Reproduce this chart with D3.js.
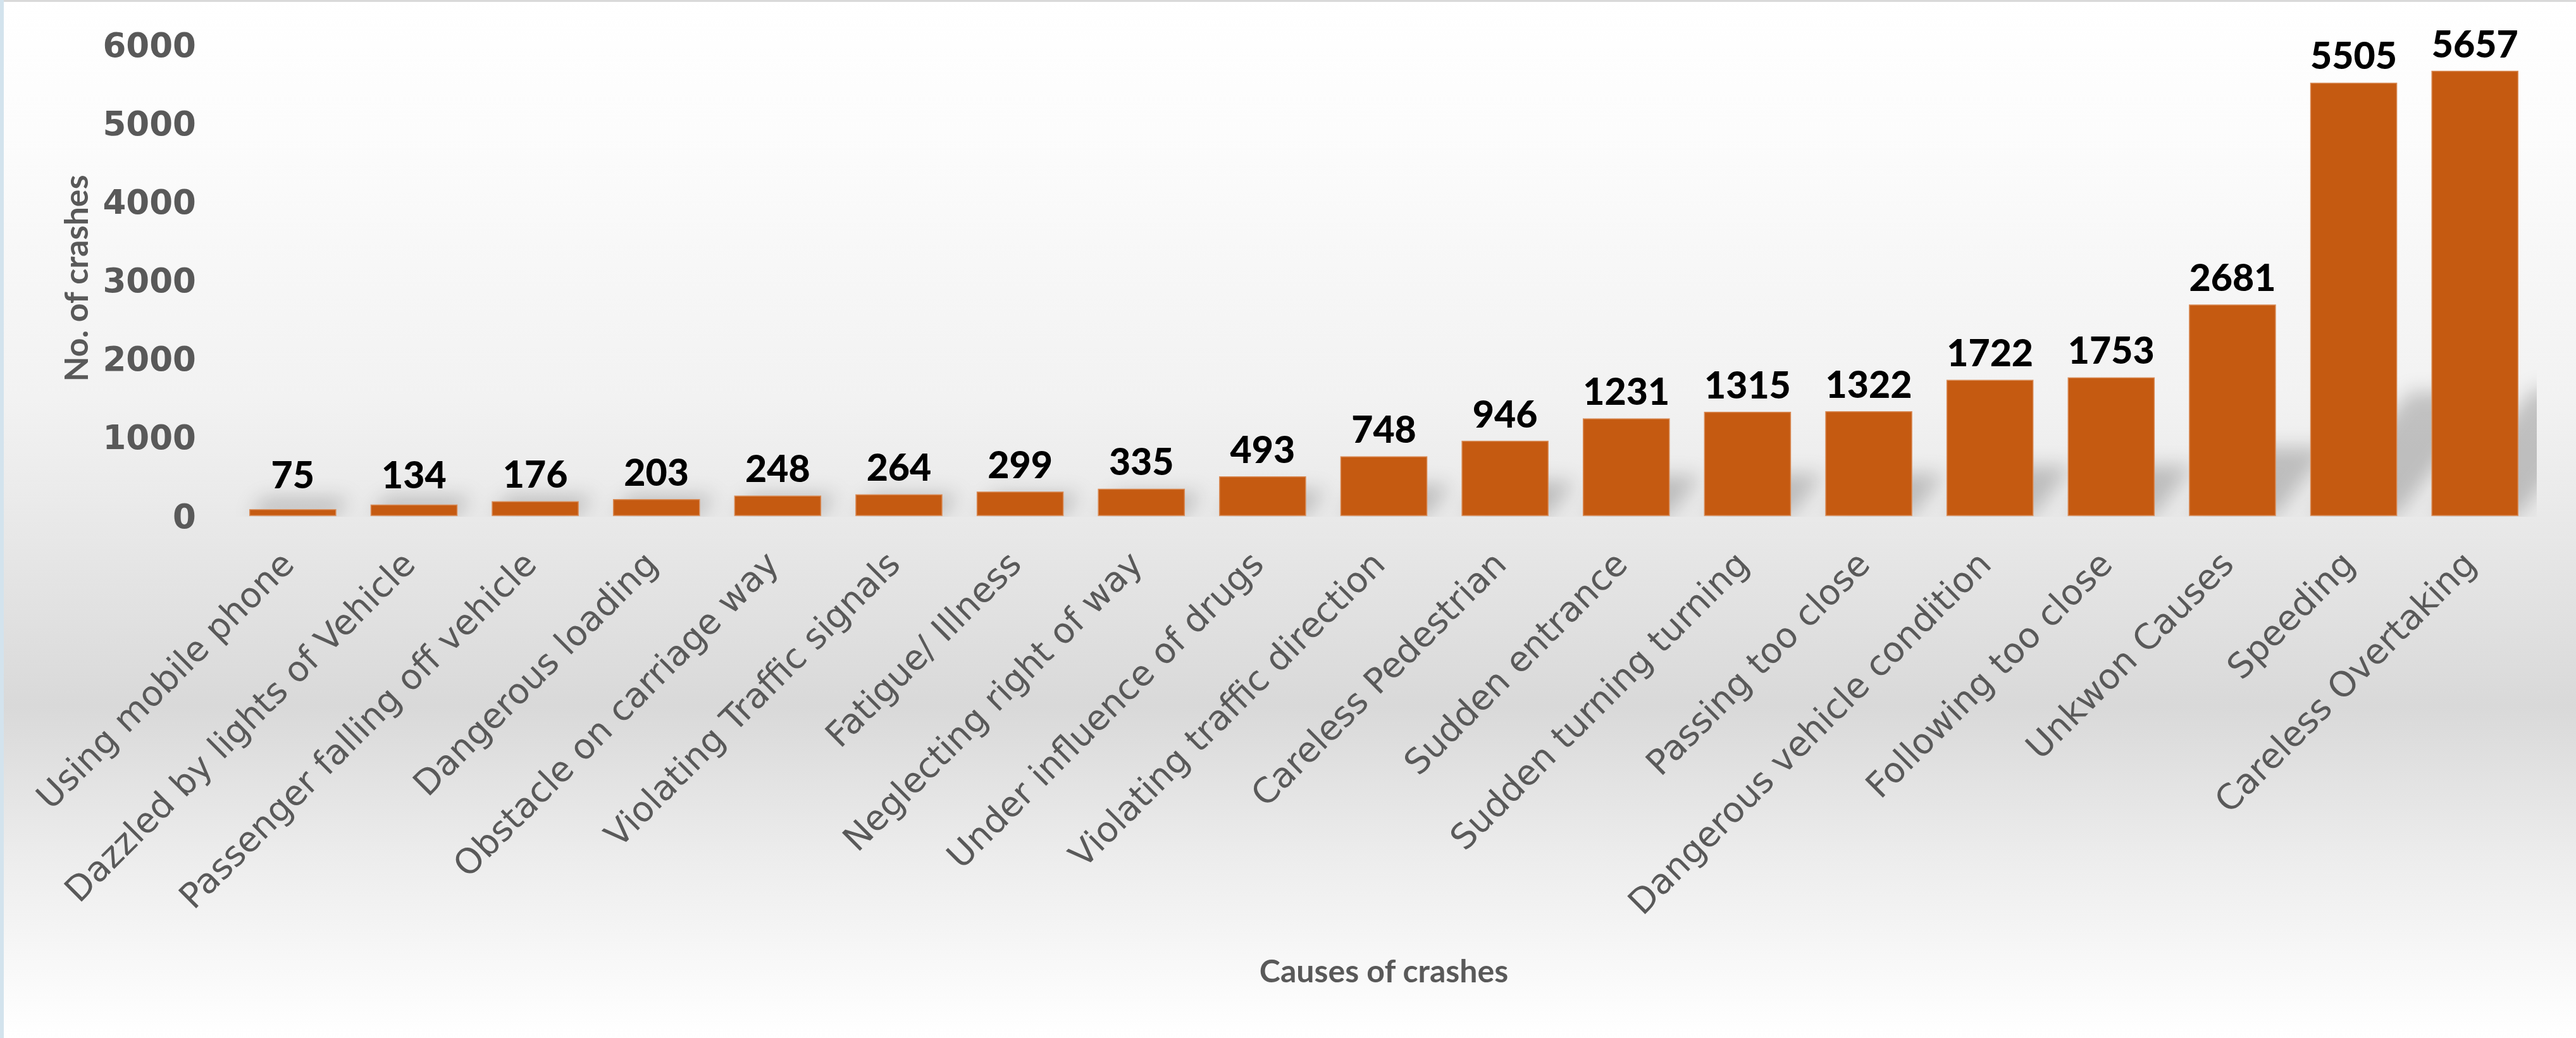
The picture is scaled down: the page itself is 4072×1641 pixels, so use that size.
<!DOCTYPE html>
<html><head><meta charset="utf-8">
<script src="https://cdn.jsdelivr.net/npm/d3@7/dist/d3.min.js"></script>
<style>body{margin:0;background:#fff;overflow:hidden}</style>
</head><body>
<svg id="c" width="4072" height="1641"></svg>
<script>
const categories = ["Using mobile phone","Dazzled by lights of Vehicle","Passenger falling off vehicle","Dangerous loading","Obstacle on carriage way","Violating Traffic signals","Fatigue/ Illness","Neglecting right of way","Under influence of drugs","Violating traffic direction","Careless Pedestrian","Sudden entrance","Sudden turning turning","Passing too close","Dangerous vehicle condition","Following too close","Unkwon Causes","Speeding","Careless Overtaking"];
const values = [75,134,176,203,248,264,299,335,493,748,946,1231,1315,1322,1722,1753,2681,5505,5657];
const yTicks = [0,1000,2000,3000,4000,5000,6000];
const yAxisTitle = "No. of crashes";
const xAxisTitle = "Causes of crashes";

const W = 4072, H = 1641;
const svg = d3.select("#c");
const defs = svg.append("defs");

// background gradient
const bg = defs.append("linearGradient").attr("id","bg").attr("x1",0).attr("y1",0).attr("x2",0).attr("y2",1);
[[0,"#ffffff"],[0.127,"#fcfcfc"],[0.383,"#f2f2f2"],[0.511,"#e8e8e8"],[0.68,"#d9d9d9"],[0.83,"#ededed"],[0.957,"#fbfbfb"],[1,"#ffffff"]]
  .forEach(([o,c])=>bg.append("stop").attr("offset",o).attr("stop-color",c));
svg.append("rect").attr("width",W).attr("height",H).attr("fill","url(#bg)");

// borders
svg.append("line").attr("x1",0).attr("x2",W).attr("y1",1.5).attr("y2",1.5).attr("stroke","#d9d9d9").attr("stroke-width",3);
svg.append("line").attr("x1",3).attr("x2",3).attr("y1",0).attr("y2",H).attr("stroke","#d3e3ed").attr("stroke-width",6);

const x = d3.scaleBand().domain(categories).range([367,4008]).paddingInner(0.29).paddingOuter(0.145);
const y = d3.scaleLinear().domain([0,6000]).range([815,70]);

// shadow
const blur = defs.append("filter").attr("id","blur").attr("x","-20%").attr("y","-50%").attr("width","140%").attr("height","200%");
blur.append("feGaussianBlur").attr("stdDeviation",15);
defs.append("clipPath").attr("id","plotclip").append("rect").attr("x",360).attr("y",0).attr("width",4010-360).attr("height",817);
const sh = svg.append("g").attr("clip-path","url(#plotclip)").append("g").attr("filter","url(#blur)");
sh.selectAll("path").data(values).join("path")
  .attr("d",(v,i)=>{
    const x0 = x(categories[i]), x1 = x0 + x.bandwidth();
    const h = y(0) - y(v);
    const dx = 0.2*h + 20, dy = 0.25*h + 25;
    return `M${x0},${y(0)}L${x1},${y(0)}L${x1+dx},${y(0)-dy}L${x0+dx},${y(0)-dy}Z`;
  })
  .attr("fill","#000").attr("fill-opacity",0.2);

// bars
svg.append("g").selectAll("rect").data(values).join("rect")
  .attr("x",(v,i)=>x(categories[i]))
  .attr("y",v=>y(v))
  .attr("width",x.bandwidth())
  .attr("height",v=>y(0)-y(v))
  .attr("fill","#C55A11")
  .attr("stroke","#d98a55").attr("stroke-width",1.5);

// data labels
svg.append("g").selectAll("text").data(values).join("text")
  .attr("x",(v,i)=>x(categories[i])+x.bandwidth()/2)
  .attr("y",v=>Math.min(y(v)-22, y(0)-43))
  .attr("text-anchor","middle")
  .attr("font-family","Lato").attr("font-weight",900).attr("font-size",59)
  .attr("fill","#000")
  .text(v=>v);

// y tick labels
svg.append("g").selectAll("text").data(yTicks).join("text")
  .attr("x",310).attr("y",v=>y(v)+1)
  .attr("text-anchor","end").attr("dominant-baseline","central")
  .attr("font-family","DejaVu Sans").attr("font-weight",700).attr("font-size",53)
  .attr("fill","#595959")
  .text(v=>v);

// category labels
svg.append("g").selectAll("text").data(categories).join("text")
  .attr("transform",d=>`translate(${x(d)+x.bandwidth()/2+5},895) rotate(-45)`)
  .attr("text-anchor","end")
  .attr("font-family","DejaVu Sans").attr("font-size",55)
  .attr("fill","#595959")
  .text(d=>d);

// axis titles
svg.append("text").attr("x",(367+4008)/2).attr("y",1553)
  .attr("text-anchor","middle").attr("font-family","Lato").attr("font-weight",700).attr("font-size",50)
  .attr("fill","#595959").text(xAxisTitle);
svg.append("text").attr("transform","translate(139,440) rotate(-90)")
  .attr("text-anchor","middle").attr("font-family","Lato").attr("font-weight",700).attr("font-size",52)
  .attr("fill","#595959").text(yAxisTitle);
</script>
</body></html>
